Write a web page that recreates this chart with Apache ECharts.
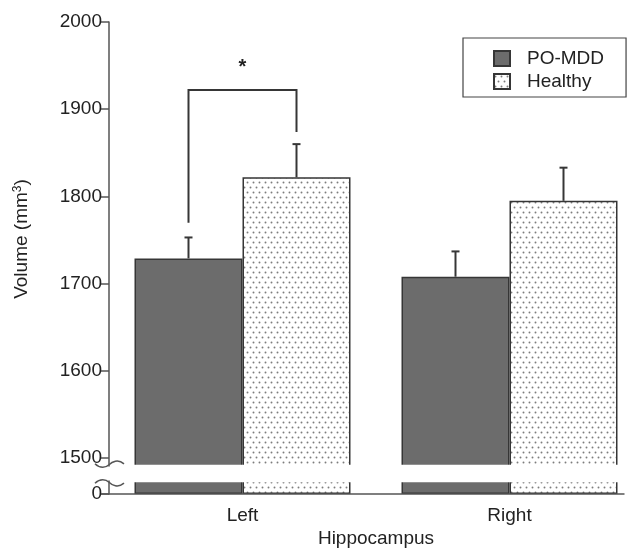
<!DOCTYPE html>
<html><head><meta charset="utf-8">
<script src="https://cdn.jsdelivr.net/npm/echarts@6/dist/echarts.min.js"></script>
<style>html,body{margin:0;padding:0;background:#fff}#c{width:643px;height:549px}</style>
</head><body><div id="c"></div>
<script>
// ---- data ----
const categories = ['Left', 'Right'];
const seriesNames = ['PO-MDD', 'Healthy'];
const poMddMean = [1729, 1708];
const poMddSE = [24, 29];
const healthyMean = [1822, 1795];
const healthySE = [38, 38];
const yTicksUpper = [1500, 1600, 1700, 1800, 1900, 2000];
const yTicksLower = [0];
const upperRange = [1491, 2000];   // visible part above the axis break
const lowerRange = [0, 18];        // visible stub below the axis break
const sigCategory = [0];
const sigTop = [1922];
const sigLeftEnd = [1770];
const sigRightEnd = [1874];
const sigStarAt = [1948];
const sigText = ['*'];

// ---- style ----
const BAR_W = 108;
const FONT = '"Liberation Sans", Arial, sans-serif';
const INK = '#363636';
const AXIS = '#555';
const TXT = '#222';

function dotPattern() {
  const c = document.createElement('canvas');
  c.width = 6; c.height = 10;
  const g = c.getContext('2d');
  g.fillStyle = '#ffffff'; g.fillRect(0, 0, 6, 10);
  g.fillStyle = '#7c7c7c';
  g.beginPath(); g.arc(1.5, 2.5, 0.95, 0, Math.PI * 2); g.fill();
  g.beginPath(); g.arc(4.5, 7.5, 0.95, 0, Math.PI * 2); g.fill();
  return c;
}

function errRender(sign) {
  return function (params, api) {
    const cat = api.value(0), m = api.value(1), se = api.value(2);
    const b = api.coord([cat, m]);
    const t = api.coord([cat, m + se]);
    const x = b[0] + sign * BAR_W / 2;
    return { type: 'group', children: [
      { type: 'line', shape: { x1: x, y1: b[1], x2: x, y2: t[1] }, style: { stroke: INK, lineWidth: 2 } },
      { type: 'line', shape: { x1: x - 4, y1: t[1], x2: x + 4, y2: t[1] }, style: { stroke: INK, lineWidth: 2 } }
    ]};
  };
}

function sigRender(params, api) {
  const cat = api.value(0);
  const top = api.coord([cat, api.value(1)]);
  const l = api.coord([cat, api.value(2)]);
  const r = api.coord([cat, api.value(3)]);
  const s = api.coord([cat, api.value(4)]);
  const xl = top[0] - BAR_W / 2, xr = top[0] + BAR_W / 2;
  return { type: 'group', children: [
    { type: 'polyline', shape: { points: [[xl, l[1]], [xl, top[1]], [xr, top[1]], [xr, r[1]]] },
      style: { stroke: INK, lineWidth: 2, fill: null } },
    { type: 'text', style: { text: sigText[params.dataIndex], x: top[0], y: s[1], align: 'center', verticalAlign: 'middle',
      font: 'bold 20px ' + FONT, fill: TXT } }
  ]};
}

const chart = echarts.init(document.getElementById('c'), null, { renderer: 'canvas' });
const pattern = { image: dotPattern(), repeat: 'repeat' };
const poStyle = { color: '#6c6c6c', borderColor: INK, borderWidth: 1.5 };
const hStyle = { color: pattern, borderColor: INK, borderWidth: 1.5 };
const fmt = v => String(v);

const commonY = {
  type: 'value',
  axisLine: { show: true, lineStyle: { color: AXIS, width: 1.5 } },
  splitLine: { show: false }
};

chart.setOption({
  animation: false,
  backgroundColor: '#fff',
  textStyle: { fontFamily: FONT },
  grid: [
    { left: 109, right: 0, top: 22, bottom: 83 },
    { left: 109, right: 0, top: 481, bottom: 52 }
  ],
  legend: {
    data: seriesNames, orient: 'vertical', left: 463, top: 38,
    itemWidth: 16, itemHeight: 15, itemGap: 4, icon: 'rect',
    padding: [11, 22, 6, 30], borderColor: '#444', borderWidth: 1.2,
    textStyle: { fontSize: 19, color: TXT, padding: [0, 0, 0, 12] }
  },
  xAxis: [
    { type: 'category', data: categories, gridIndex: 0, show: false },
    { type: 'category', data: categories, gridIndex: 1,
      axisLine: { show: false }, axisTick: { show: false },
      axisLabel: { fontSize: 19, color: TXT, margin: 12 },
      name: 'Hippocampus', nameLocation: 'middle', nameGap: 35,
      nameTextStyle: { fontSize: 19, color: TXT } }
  ],
  yAxis: [
    Object.assign({}, commonY, {
      gridIndex: 0, min: upperRange[0], max: upperRange[1],
      axisTick: { show: true, length: 8, customValues: yTicksUpper, lineStyle: { color: AXIS, width: 1.5 } },
      axisLabel: { fontSize: 19, color: TXT, margin: 7, customValues: yTicksUpper, formatter: fmt },
      name: '{a|Volume (mm}{s|3}{a|)}', nameLocation: 'middle', nameGap: 78, nameRotate: 90,
      nameTextStyle: { padding: [0, 0, 0, 10], rich: {
        a: { fontSize: 19, color: TXT, fontFamily: FONT },
        s: { fontSize: 12, color: TXT, fontFamily: FONT, verticalAlign: 'top' } } }
    }),
    Object.assign({}, commonY, {
      gridIndex: 1, min: lowerRange[0], max: lowerRange[1],
      axisTick: { show: true, length: 8, customValues: yTicksLower, lineStyle: { color: AXIS, width: 1.5 } },
      axisLabel: { fontSize: 19, color: TXT, margin: 7, customValues: yTicksLower, formatter: fmt }
    })
  ],
  series: [
    { name: seriesNames[0], type: 'bar', data: poMddMean, barWidth: BAR_W, barGap: '0%',
      xAxisIndex: 0, yAxisIndex: 0, itemStyle: poStyle },
    { name: seriesNames[1], type: 'bar', data: healthyMean, barWidth: BAR_W, barGap: '0%',
      xAxisIndex: 0, yAxisIndex: 0, itemStyle: hStyle },
    { name: seriesNames[0], type: 'bar', data: poMddMean, barWidth: BAR_W, barGap: '0%',
      xAxisIndex: 1, yAxisIndex: 1, itemStyle: poStyle },
    { name: seriesNames[1], type: 'bar', data: healthyMean, barWidth: BAR_W, barGap: '0%',
      xAxisIndex: 1, yAxisIndex: 1, itemStyle: hStyle },
    { type: 'custom', renderItem: errRender(-1), z: 5, xAxisIndex: 0, yAxisIndex: 0,
      data: categories.map((c, i) => [i, poMddMean[i], poMddSE[i]]) },
    { type: 'custom', renderItem: errRender(1), z: 5, xAxisIndex: 0, yAxisIndex: 0,
      data: categories.map((c, i) => [i, healthyMean[i], healthySE[i]]) },
    { type: 'custom', renderItem: sigRender, z: 5, xAxisIndex: 0, yAxisIndex: 0, clip: false,
      data: sigCategory.map((c, i) => [c, sigTop[i], sigLeftEnd[i], sigRightEnd[i], sigStarAt[i]]) }
  ]
});

// axis decorations: baseline, break gap and break squiggles, positioned from the axes
const rectU = chart.getModel().getComponent('grid', 0).coordinateSystem.getRect();
const rectL = chart.getModel().getComponent('grid', 1).coordinateSystem.getRect();
const y0 = chart.convertToPixel({ yAxisIndex: 1 }, 0);
const lastCenter = chart.convertToPixel({ xAxisIndex: 1 }, categories.length - 1);
const ax = rectU.x;
const gapTop = rectU.y + rectU.height - 1.2;
const gapBot = rectL.y + 1.2;
function squiggle(x, y, d) {
  return [
    { type: 'bezierCurve', shape: { x1: x - 14, y1: y, cpx1: x - 9, cpy1: y + 5 * d, cpx2: x - 3, cpy2: y + 4 * d, x2: x, y2: y + d },
      style: { stroke: AXIS, lineWidth: 1.5, fill: null }, z: 12 },
    { type: 'bezierCurve', shape: { x1: x, y1: y + d, cpx1: x + 3, cpy1: y - 2 * d, cpx2: x + 9, cpy2: y - 5 * d, x2: x + 15, y2: y },
      style: { stroke: AXIS, lineWidth: 1.5, fill: null }, z: 12 }
  ];
}
chart.setOption({ graphic: [
  { type: 'rect', shape: { x: ax + 1.5, y: gapTop, width: rectU.width, height: gapBot - gapTop },
    style: { fill: '#fff' }, z: 11 },
  { type: 'line', shape: { x1: ax - 8, y1: y0, x2: lastCenter + BAR_W + 7, y2: y0 },
    style: { stroke: AXIS, lineWidth: 1.5 }, z: 10 }
].concat(squiggle(ax, gapTop - 1, 1), squiggle(ax, gapBot + 1, -1)) });
</script></body></html>
